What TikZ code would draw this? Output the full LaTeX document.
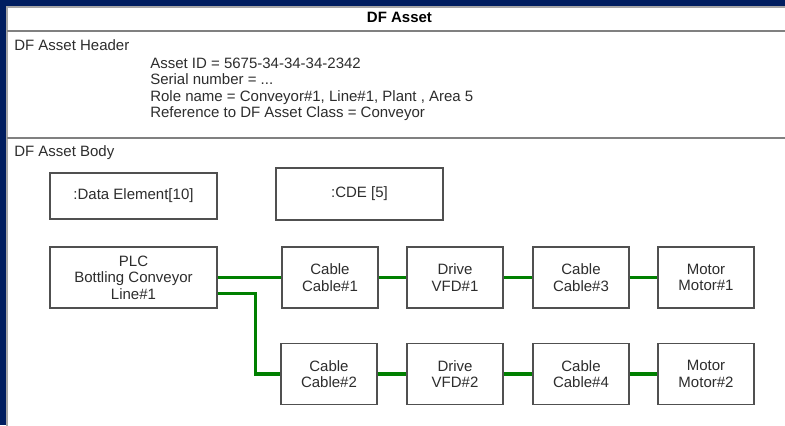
\documentclass[tikz,border=0pt]{standalone}
\usepackage{fontspec}
\setmainfont{Liberation Sans}
\usetikzlibrary{calc}
\definecolor{navy}{RGB}{0,30,96}
\definecolor{boxgray}{RGB}{80,80,80}
\definecolor{sepgray}{RGB}{128,128,128}
\definecolor{txt}{RGB}{45,45,45}
\definecolor{wire}{RGB}{0,128,0}
\begin{document}
\begin{tikzpicture}[x=0.75pt,y=-0.75pt,
  font=\fontsize{11.25}{12.4}\selectfont,
  every node/.style={text=txt},
  blk/.style={draw=boxgray, line width=1.1pt, fill=white, align=center, inner sep=0pt,
              minimum width=72pt, minimum height=45.75pt},
  wideblk/.style={blk, minimum width=125.25pt},
  lbl/.style={anchor=base west, inner sep=0pt},
  link/.style={draw=wire, line width=2.3pt},
  sep/.style={draw=sepgray, line width=1.5pt}]
\useasboundingbox (0,0) rectangle (785,425);
\fill[navy] (0,0) rectangle (785,425);
\fill[white] (7,7) rectangle (790,430);
\draw[sepgray!70, line width=0.8pt] (7,430) -- (7,7) -- (790,7);
% sections
\draw[sep] (7,31) -- (790,31);
\draw[sep] (7,137.5) -- (790,137.5);
\node[anchor=base, inner sep=0pt, font=\fontsize{11.25}{12.4}\selectfont\bfseries, text=black] (title) at (399.5,22.5) {DF Asset};
\node[lbl] (hdr) at (14,50) {DF Asset Header};
\node[lbl] (l1) at (150,68) {Asset ID = 5675-34-34-34-2342};
\node[lbl] (l2) at (150,84.5) {Serial number = ...};
\node[lbl] (l3) at (150,101) {Role name = Conveyor\#1, Line\#1, Plant , Area 5};
\node[lbl] (l4) at (150,117.5) {Reference to DF Asset Class = Conveyor};
\node[lbl] (body) at (14,156) {DF Asset Body};
% blocks
\node[wideblk, minimum height=34.5pt] (de) at (133.5,196) {:Data Element[10]};
\node[wideblk, minimum height=39pt] (cde) at (359.5,194) {:CDE [5]};
\node[wideblk] (plc) at (133.5,277.5) {PLC\\Bottling Conveyor\\Line\#1};
\node[blk] (c1) at (330,277.5) {Cable\\Cable\#1};
\node[blk] (d1) at (455,277.5) {Drive\\VFD\#1};
\node[blk] (c3) at (581,277.5) {Cable\\Cable\#3};
\node[blk] (m1) at (706,277.5) {Motor\\Motor\#1};
\node[blk] (c2) at (329,374) {Cable\\Cable\#2};
\node[blk] (d2) at (455,374) {Drive\\VFD\#2};
\node[blk] (c4) at (581,374) {Cable\\Cable\#4};
\node[blk] (m2) at (706,374) {Motor\\Motor\#2};
% links
\draw[link] (plc.east) -- (c1.west);
\draw[link] (c1) -- (d1);
\draw[link] (d1) -- (c3);
\draw[link] (c3) -- (m1);
\draw[link] ($(plc.east)+(0,16)$) -- ++(38,0) |- (c2.west);
\draw[link] (c2) -- (d2);
\draw[link] (d2) -- (c4);
\draw[link] (c4) -- (m2);
\end{tikzpicture}
\end{document}
